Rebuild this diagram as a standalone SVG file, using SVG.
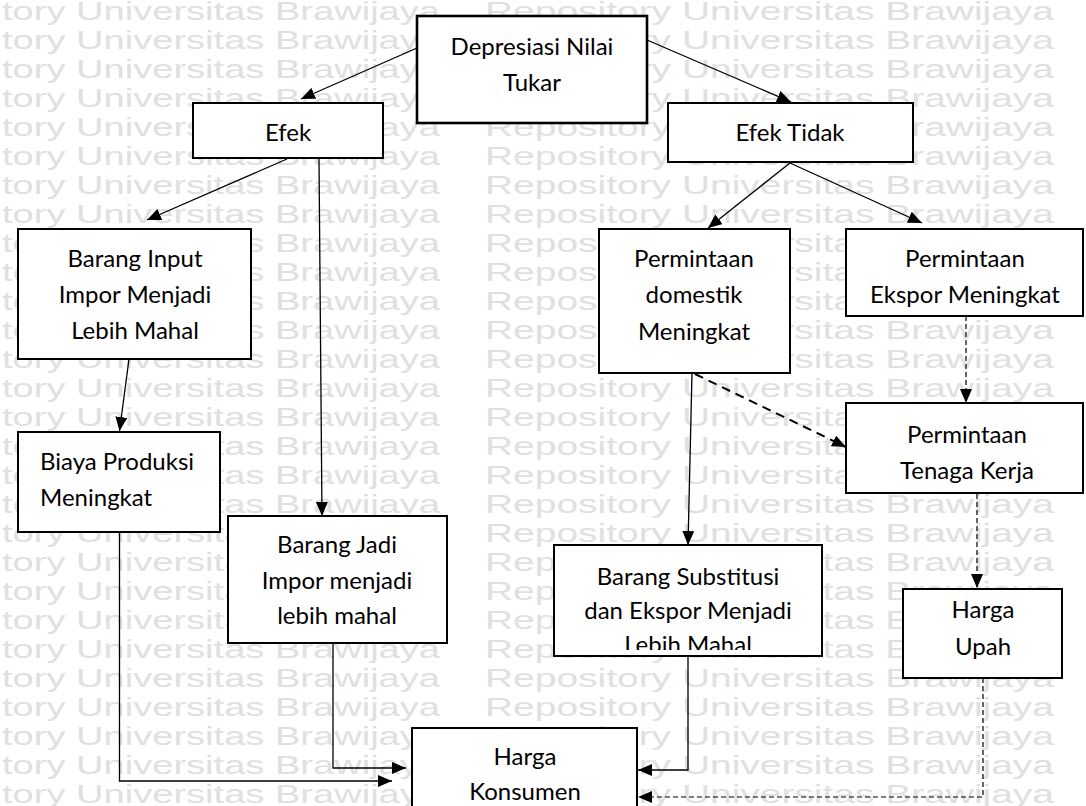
<svg xmlns="http://www.w3.org/2000/svg" width="1086" height="806" viewBox="0 0 1086 806">
<style>
.wm{font-family:"Liberation Sans",Arial,sans-serif;font-size:26px;fill:#e0e0e0}
.box{fill:#fff;stroke:#000;stroke-width:2}
.t{font-family:Lato,"Open Sans",sans-serif;font-size:24px;fill:#000;text-anchor:middle}
.tl{font-family:Lato,"Open Sans",sans-serif;font-size:24px;fill:#000}
.c{fill:none;stroke:#000;stroke-width:1.3}
.d1{fill:none;stroke:#000;stroke-width:1.2;stroke-dasharray:5 3}
.d2{fill:none;stroke:#000;stroke-width:2;stroke-dasharray:9 6}
</style>
<defs>
<marker id="ah" markerWidth="14" markerHeight="12" refX="14" refY="6" orient="auto" markerUnits="userSpaceOnUse"><path d="M0,0 L14,6 L0,12 Z" fill="#000"/></marker>
<clipPath id="subClip"><rect x="554" y="545" width="268" height="105"/></clipPath>
</defs>
<rect width="1086" height="806" fill="#fff"/>
<g id="watermark">
<text class="wm" x="2" y="20" textLength="438" lengthAdjust="spacingAndGlyphs">tory Universitas Brawijaya</text><text class="wm" x="485" y="20" textLength="569" lengthAdjust="spacingAndGlyphs">Repository Universitas Brawijaya</text>
<text class="wm" x="2" y="49" textLength="438" lengthAdjust="spacingAndGlyphs">tory Universitas Brawijaya</text><text class="wm" x="485" y="49" textLength="569" lengthAdjust="spacingAndGlyphs">Repository Universitas Brawijaya</text>
<text class="wm" x="2" y="78" textLength="438" lengthAdjust="spacingAndGlyphs">tory Universitas Brawijaya</text><text class="wm" x="485" y="78" textLength="569" lengthAdjust="spacingAndGlyphs">Repository Universitas Brawijaya</text>
<text class="wm" x="2" y="107" textLength="438" lengthAdjust="spacingAndGlyphs">tory Universitas Brawijaya</text><text class="wm" x="485" y="107" textLength="569" lengthAdjust="spacingAndGlyphs">Repository Universitas Brawijaya</text>
<text class="wm" x="2" y="136" textLength="438" lengthAdjust="spacingAndGlyphs">tory Universitas Brawijaya</text><text class="wm" x="485" y="136" textLength="569" lengthAdjust="spacingAndGlyphs">Repository Universitas Brawijaya</text>
<text class="wm" x="2" y="165" textLength="438" lengthAdjust="spacingAndGlyphs">tory Universitas Brawijaya</text><text class="wm" x="485" y="165" textLength="569" lengthAdjust="spacingAndGlyphs">Repository Universitas Brawijaya</text>
<text class="wm" x="2" y="194" textLength="438" lengthAdjust="spacingAndGlyphs">tory Universitas Brawijaya</text><text class="wm" x="485" y="194" textLength="569" lengthAdjust="spacingAndGlyphs">Repository Universitas Brawijaya</text>
<text class="wm" x="2" y="223" textLength="438" lengthAdjust="spacingAndGlyphs">tory Universitas Brawijaya</text><text class="wm" x="485" y="223" textLength="569" lengthAdjust="spacingAndGlyphs">Repository Universitas Brawijaya</text>
<text class="wm" x="2" y="252" textLength="438" lengthAdjust="spacingAndGlyphs">tory Universitas Brawijaya</text><text class="wm" x="485" y="252" textLength="569" lengthAdjust="spacingAndGlyphs">Repository Universitas Brawijaya</text>
<text class="wm" x="2" y="281" textLength="438" lengthAdjust="spacingAndGlyphs">tory Universitas Brawijaya</text><text class="wm" x="485" y="281" textLength="569" lengthAdjust="spacingAndGlyphs">Repository Universitas Brawijaya</text>
<text class="wm" x="2" y="310" textLength="438" lengthAdjust="spacingAndGlyphs">tory Universitas Brawijaya</text><text class="wm" x="485" y="310" textLength="569" lengthAdjust="spacingAndGlyphs">Repository Universitas Brawijaya</text>
<text class="wm" x="2" y="339" textLength="438" lengthAdjust="spacingAndGlyphs">tory Universitas Brawijaya</text><text class="wm" x="485" y="339" textLength="569" lengthAdjust="spacingAndGlyphs">Repository Universitas Brawijaya</text>
<text class="wm" x="2" y="368" textLength="438" lengthAdjust="spacingAndGlyphs">tory Universitas Brawijaya</text><text class="wm" x="485" y="368" textLength="569" lengthAdjust="spacingAndGlyphs">Repository Universitas Brawijaya</text>
<text class="wm" x="2" y="397" textLength="438" lengthAdjust="spacingAndGlyphs">tory Universitas Brawijaya</text><text class="wm" x="485" y="397" textLength="569" lengthAdjust="spacingAndGlyphs">Repository Universitas Brawijaya</text>
<text class="wm" x="2" y="426" textLength="438" lengthAdjust="spacingAndGlyphs">tory Universitas Brawijaya</text><text class="wm" x="485" y="426" textLength="569" lengthAdjust="spacingAndGlyphs">Repository Universitas Brawijaya</text>
<text class="wm" x="2" y="455" textLength="438" lengthAdjust="spacingAndGlyphs">tory Universitas Brawijaya</text><text class="wm" x="485" y="455" textLength="569" lengthAdjust="spacingAndGlyphs">Repository Universitas Brawijaya</text>
<text class="wm" x="2" y="484" textLength="438" lengthAdjust="spacingAndGlyphs">tory Universitas Brawijaya</text><text class="wm" x="485" y="484" textLength="569" lengthAdjust="spacingAndGlyphs">Repository Universitas Brawijaya</text>
<text class="wm" x="2" y="513" textLength="438" lengthAdjust="spacingAndGlyphs">tory Universitas Brawijaya</text><text class="wm" x="485" y="513" textLength="569" lengthAdjust="spacingAndGlyphs">Repository Universitas Brawijaya</text>
<text class="wm" x="2" y="542" textLength="438" lengthAdjust="spacingAndGlyphs">tory Universitas Brawijaya</text><text class="wm" x="485" y="542" textLength="569" lengthAdjust="spacingAndGlyphs">Repository Universitas Brawijaya</text>
<text class="wm" x="2" y="571" textLength="438" lengthAdjust="spacingAndGlyphs">tory Universitas Brawijaya</text><text class="wm" x="485" y="571" textLength="569" lengthAdjust="spacingAndGlyphs">Repository Universitas Brawijaya</text>
<text class="wm" x="2" y="600" textLength="438" lengthAdjust="spacingAndGlyphs">tory Universitas Brawijaya</text><text class="wm" x="485" y="600" textLength="569" lengthAdjust="spacingAndGlyphs">Repository Universitas Brawijaya</text>
<text class="wm" x="2" y="629" textLength="438" lengthAdjust="spacingAndGlyphs">tory Universitas Brawijaya</text><text class="wm" x="485" y="629" textLength="569" lengthAdjust="spacingAndGlyphs">Repository Universitas Brawijaya</text>
<text class="wm" x="2" y="658" textLength="438" lengthAdjust="spacingAndGlyphs">tory Universitas Brawijaya</text><text class="wm" x="485" y="658" textLength="569" lengthAdjust="spacingAndGlyphs">Repository Universitas Brawijaya</text>
<text class="wm" x="2" y="687" textLength="438" lengthAdjust="spacingAndGlyphs">tory Universitas Brawijaya</text><text class="wm" x="485" y="687" textLength="569" lengthAdjust="spacingAndGlyphs">Repository Universitas Brawijaya</text>
<text class="wm" x="2" y="716" textLength="438" lengthAdjust="spacingAndGlyphs">tory Universitas Brawijaya</text><text class="wm" x="485" y="716" textLength="569" lengthAdjust="spacingAndGlyphs">Repository Universitas Brawijaya</text>
<text class="wm" x="2" y="745" textLength="438" lengthAdjust="spacingAndGlyphs">tory Universitas Brawijaya</text><text class="wm" x="485" y="745" textLength="569" lengthAdjust="spacingAndGlyphs">Repository Universitas Brawijaya</text>
<text class="wm" x="2" y="774" textLength="438" lengthAdjust="spacingAndGlyphs">tory Universitas Brawijaya</text><text class="wm" x="485" y="774" textLength="569" lengthAdjust="spacingAndGlyphs">Repository Universitas Brawijaya</text>
<text class="wm" x="2" y="803" textLength="438" lengthAdjust="spacingAndGlyphs">tory Universitas Brawijaya</text><text class="wm" x="485" y="803" textLength="569" lengthAdjust="spacingAndGlyphs">Repository Universitas Brawijaya</text>
</g>
<g id="connectors">
<path class="c" d="M417,48 L301,99" marker-end="url(#ah)"/>
<path class="c" d="M647,40 L791,102" marker-end="url(#ah)"/>
<path class="c" d="M287,159 L147,220" marker-end="url(#ah)"/>
<path class="c" d="M319,159 L322,516" marker-end="url(#ah)"/>
<path class="c" d="M129,359 L119.5,431" marker-end="url(#ah)"/>
<path class="c" d="M790,163 L708,228" marker-end="url(#ah)"/>
<path class="c" d="M790,163 L922,223" marker-end="url(#ah)"/>
<path class="d1" d="M966,316 L966,403" marker-end="url(#ah)"/>
<path class="d2" d="M695,374 L846,447" marker-end="url(#ah)"/>
<path class="c" d="M692,373 L688,545" marker-end="url(#ah)"/>
<path class="d1" d="M977,494 L977,588" marker-end="url(#ah)"/>
<path class="c" d="M119.5,532 L119.5,781 L392,781" marker-end="url(#ah)"/>
<path class="c" d="M333,643 L333,768 L406,768" marker-end="url(#ah)"/>
<path class="c" d="M688,656 L688,770 L638,770" marker-end="url(#ah)"/>
<path class="d1" d="M983,678 L983,797 L638,797" marker-end="url(#ah)"/>
</g>
<g id="n-depresiasi">
<rect class="box" x="417" y="16" width="230" height="107" style="stroke-width:2.6"/>
<text class="t" x="532" y="55">Depresiasi Nilai</text>
<text class="t" x="532" y="91">Tukar</text>
</g>
<g id="n-efek">
<rect class="box" x="193" y="103" width="190" height="55"/>
<text class="t" x="288" y="141">Efek</text>
</g>
<g id="n-efek-tidak">
<rect class="box" x="668" y="103" width="245" height="59"/>
<text class="t" x="790" y="141">Efek Tidak</text>
</g>
<g id="n-barang-input">
<rect class="box" x="18" y="229" width="233" height="130"/>
<text class="t" x="135" y="267">Barang Input</text>
<text class="t" x="135" y="303">Impor Menjadi</text>
<text class="t" x="135" y="339">Lebih Mahal</text>
</g>
<g id="n-biaya">
<rect class="box" x="18" y="432" width="202" height="100"/>
<text class="tl" x="40" y="470">Biaya Produksi</text>
<text class="tl" x="40" y="506">Meningkat</text>
</g>
<g id="n-barang-jadi">
<rect class="box" x="228" y="516" width="219" height="127"/>
<text class="t" x="337" y="553">Barang Jadi</text>
<text class="t" x="337" y="589">Impor menjadi</text>
<text class="t" x="337" y="624">lebih mahal</text>
</g>
<g id="n-domestik">
<rect class="box" x="599" y="229" width="191" height="144"/>
<text class="t" x="694" y="267">Permintaan</text>
<text class="t" x="694" y="303">domestik</text>
<text class="t" x="694" y="340">Meningkat</text>
</g>
<g id="n-ekspor">
<rect class="box" x="846" y="229" width="237" height="87"/>
<text class="t" x="965" y="267">Permintaan</text>
<text class="t" x="965" y="303">Ekspor Meningkat</text>
</g>
<g id="n-tenaga">
<rect class="box" x="846" y="403" width="237" height="90"/>
<text class="t" x="967" y="443">Permintaan</text>
<text class="t" x="967" y="479">Tenaga Kerja</text>
</g>
<g id="n-substitusi">
<rect class="box" x="554" y="545" width="268" height="111"/>
<g clip-path="url(#subClip)">
<text class="t" x="688" y="585">Barang Substitusi</text>
<text class="t" x="688" y="619">dan Ekspor Menjadi</text>
<text class="t" x="688" y="653">Lebih Mahal</text>
</g>
</g>
<g id="n-upah">
<rect class="box" x="903" y="589" width="159" height="89"/>
<text class="t" x="983" y="618">Harga</text>
<text class="t" x="983" y="655">Upah</text>
</g>
<g id="n-konsumen">
<rect class="box" x="412" y="728" width="225" height="90"/>
<text class="t" x="525" y="765">Harga</text>
<text class="t" x="525" y="800">Konsumen</text>
</g>
</svg>
